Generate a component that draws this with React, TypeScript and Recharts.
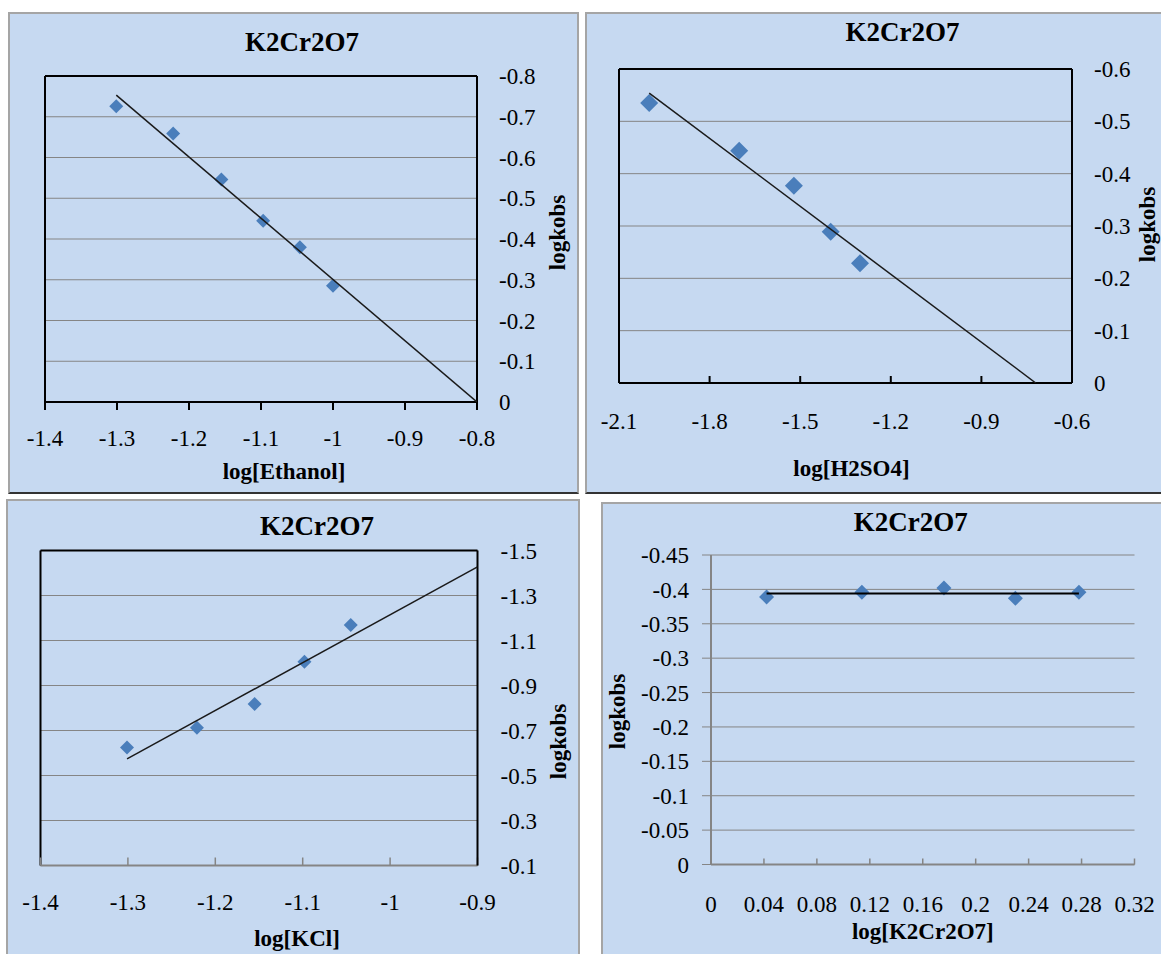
import React from 'react';
import { ScatterChart, Scatter, XAxis, YAxis, CartesianGrid, ReferenceLine } from 'recharts';

const FONT = '"Liberation Serif", "Times New Roman", serif';
const BG = '#c6d9f1';
const MARK = '#4a7ebb';
const GRID = '#858585';

// Panel 1: log[Ethanol]
const ethanolX = [-1.301, -1.222, -1.155, -1.097, -1.046, -1.0];
const ethanolY = [-0.726, -0.659, -0.546, -0.445, -0.38, -0.285];
const ethanolFitX = [-1.301, -0.8];
const ethanolFitY = [-0.753, 0];
const ethanolXTicks = [-1.4, -1.3, -1.2, -1.1, -1, -0.9, -0.8];
const ethanolYTicks = [-0.8, -0.7, -0.6, -0.5, -0.4, -0.3, -0.2, -0.1, 0];

// Panel 2: log[H2SO4]
const acidX = [-2.0, -1.702, -1.521, -1.399, -1.302];
const acidY = [-0.535, -0.444, -0.377, -0.289, -0.229];
const acidFitX = [-2.0, -0.72];
const acidFitY = [-0.554, 0];
const acidXTicks = [-2.1, -1.8, -1.5, -1.2, -0.9, -0.6];
const acidYTicks = [-0.6, -0.5, -0.4, -0.3, -0.2, -0.1, 0];

// Panel 3: log[KCl]
const kclX = [-1.301, -1.221, -1.155, -1.098, -1.045];
const kclY = [-0.625, -0.712, -0.818, -1.006, -1.169];
const kclFitX = [-1.301, -0.9];
const kclFitY = [-0.574, -1.427];
const kclXTicks = [-1.4, -1.3, -1.2, -1.1, -1, -0.9];
const kclYTicks = [-1.5, -1.3, -1.1, -0.9, -0.7, -0.5, -0.3, -0.1];

// Panel 4: log[K2Cr2O7]
const oxX = [0.042, 0.114, 0.176, 0.23, 0.278];
const oxY = [-0.389, -0.396, -0.402, -0.387, -0.396];
const oxFitX = [0.042, 0.278];
const oxFitY = [-0.394, -0.394];
const oxXTicks = [0, 0.04, 0.08, 0.12, 0.16, 0.2, 0.24, 0.28, 0.32];
const oxYTicks = [-0.45, -0.4, -0.35, -0.3, -0.25, -0.2, -0.15, -0.1, -0.05, 0];

const zip = (xs: number[], ys: number[]) => xs.map((x, i) => ({ x, y: ys[i] }));

const diamond = (r: number) => (props: any) => {
  const { cx, cy } = props;
  if (cx == null || cy == null) return null;
  return <path d={`M${cx},${cy - r}L${cx + r},${cy}L${cx},${cy + r}L${cx - r},${cy}Z`} fill={MARK} />;
};
const NoShape = () => null;

const tickStyle = { fontSize: 23, fill: '#000', fontFamily: 'Liberation Serif' };

const Title = ({ cx, top, text, size }: { cx: number; top: number; text: string; size: number }) => (
  <div
    style={{
      position: 'absolute',
      left: cx - 150,
      top,
      width: 300,
      textAlign: 'center',
      fontSize: size,
      lineHeight: `${size}px`,
      fontWeight: 'bold',
      fontFamily: FONT,
      whiteSpace: 'nowrap',
      color: '#000',
    }}
  >
    {text}
  </div>
);

const VTitle = ({ cx, cy, text }: { cx: number; cy: number; text: string }) => (
  <div
    style={{
      position: 'absolute',
      left: cx - 60,
      top: cy - 11.5,
      width: 120,
      height: 23,
      textAlign: 'center',
      fontSize: 23,
      lineHeight: '23px',
      fontWeight: 'bold',
      fontFamily: FONT,
      whiteSpace: 'nowrap',
      transform: 'rotate(-90deg)',
      color: '#000',
    }}
  >
    {text}
  </div>
);

const Frame = ({ left, top, width, height, darkBottom }: any) => (
  <div
    style={{
      position: 'absolute',
      left,
      top,
      width,
      height,
      boxSizing: 'border-box',
      background: BG,
      border: '2px solid #a5a5a5',
      borderBottom: darkBottom ? '2px solid #333' : '2px solid #a5a5a5',
    }}
  />
);

export default function App() {
  return (
    <div
      style={{
        position: 'absolute',
        left: 0,
        top: 0,
        width: 1161,
        height: 954,
        overflow: 'hidden',
        background: '#fff',
        fontFamily: FONT,
      }}
    >
      <style>{`.recharts-wrapper svg text, .recharts-text { font-family: "Liberation Serif", "Times New Roman", serif !important; }`}</style>
      <Frame left={8} top={12} width={571} height={482} darkBottom />
      <Frame left={585} top={12} width={600} height={482} darkBottom />
      <Frame left={6} top={499} width={574} height={500} />
      <Frame left={601} top={502} width={600} height={500} />

      {/* Panel 1 */}
      <div style={{ position: 'absolute', left: 8, top: 12 }}>
        <ScatterChart width={571} height={482} margin={{ top: 64, right: 0, bottom: 0, left: 37 }}>
          <CartesianGrid vertical={false} stroke={GRID} strokeWidth={1} />
          <XAxis type="number" dataKey="x" domain={[-1.4, -0.8]} ticks={ethanolXTicks} interval={0} height={92}
            axisLine={{ stroke: '#000', strokeWidth: 2 }} tickLine={{ stroke: '#000', strokeWidth: 2 }}
            tickSize={8} tickMargin={20} tick={tickStyle} allowDataOverflow />
          <YAxis type="number" dataKey="y" orientation="right" domain={[-0.8, 0]} reversed ticks={ethanolYTicks} interval={0}
            width={102} axisLine={{ stroke: '#000', strokeWidth: 2 }} tickLine={false} tickSize={0} tickMargin={22}
            tick={tickStyle} allowDataOverflow />
          <ReferenceLine y={-0.8} stroke="#000" strokeWidth={2} />
          <ReferenceLine x={-1.4} stroke="#000" strokeWidth={2} />
          <Scatter data={zip(ethanolX, ethanolY)} shape={diamond(7)} isAnimationActive={false} />
          <Scatter data={zip(ethanolFitX, ethanolFitY)} line={{ stroke: '#1a1a1a', strokeWidth: 1.5 }} shape={NoShape} isAnimationActive={false} />
        </ScatterChart>
      </div>

      {/* Panel 2 */}
      <div style={{ position: 'absolute', left: 585, top: 12 }}>
        <ScatterChart width={576} height={482} margin={{ top: 57, right: 0, bottom: 0, left: 34 }}>
          <CartesianGrid vertical={false} stroke={GRID} strokeWidth={1} />
          <XAxis type="number" dataKey="x" domain={[-2.1, -0.6]} ticks={acidXTicks} interval={0} height={111}
            axisLine={{ stroke: '#000', strokeWidth: 2 }} tickLine={{ stroke: '#000', strokeWidth: 2 }}
            tickSize={-7} tickMargin={37} tick={tickStyle} allowDataOverflow />
          <YAxis type="number" dataKey="y" orientation="right" domain={[-0.6, 0]} reversed ticks={acidYTicks} interval={0}
            width={89} axisLine={{ stroke: '#000', strokeWidth: 2 }} tickLine={false} tickSize={0} tickMargin={22}
            tick={tickStyle} allowDataOverflow />
          <ReferenceLine y={-0.6} stroke="#000" strokeWidth={2} />
          <ReferenceLine x={-2.1} stroke="#000" strokeWidth={2} />
          <Scatter data={zip(acidX, acidY)} shape={diamond(9)} isAnimationActive={false} />
          <Scatter data={zip(acidFitX, acidFitY)} line={{ stroke: '#1a1a1a', strokeWidth: 1.5 }} shape={NoShape} isAnimationActive={false} />
        </ScatterChart>
      </div>

      {/* Panel 3 */}
      <div style={{ position: 'absolute', left: 6, top: 499 }}>
        <ScatterChart width={574} height={455} margin={{ top: 51.5, right: 0, bottom: 0, left: 34.5 }}>
          <CartesianGrid vertical={false} stroke={GRID} strokeWidth={1} />
          <XAxis type="number" dataKey="x" domain={[-1.4, -0.9]} ticks={kclXTicks} interval={0} height={88.5}
            axisLine={{ stroke: GRID, strokeWidth: 2 }} tickLine={{ stroke: GRID, strokeWidth: 1.5 }}
            tickSize={-8} tickMargin={36} tick={tickStyle} allowDataOverflow />
          <YAxis type="number" dataKey="y" orientation="right" domain={[-1.5, -0.1]} reversed ticks={kclYTicks} interval={0}
            width={102.5} axisLine={{ stroke: '#000', strokeWidth: 2 }} tickLine={false} tickSize={0} tickMargin={23}
            tick={tickStyle} allowDataOverflow />
          <ReferenceLine y={-1.5} stroke="#000" strokeWidth={2} />
          <ReferenceLine x={-1.4} stroke="#000" strokeWidth={2} />
          <Scatter data={zip(kclX, kclY)} shape={diamond(7)} isAnimationActive={false} />
          <Scatter data={zip(kclFitX, kclFitY)} line={{ stroke: '#1a1a1a', strokeWidth: 1.5 }} shape={NoShape} isAnimationActive={false} />
        </ScatterChart>
      </div>

      {/* Panel 4 */}
      <div style={{ position: 'absolute', left: 601, top: 502 }}>
        <ScatterChart width={560} height={452} margin={{ top: 53, right: 26.5, bottom: 0, left: 0 }}>
          <CartesianGrid vertical={false} stroke={GRID} strokeWidth={1} />
          <XAxis type="number" dataKey="x" domain={[0, 0.32]} ticks={oxXTicks} interval={0} height={89.5}
            axisLine={{ stroke: GRID, strokeWidth: 2 }} tickLine={{ stroke: GRID, strokeWidth: 1.5 }}
            tickSize={-6} tickMargin={37} tick={tickStyle} allowDataOverflow />
          <YAxis type="number" dataKey="y" orientation="left" domain={[-0.45, 0]} reversed ticks={oxYTicks} interval={0}
            width={110} axisLine={{ stroke: GRID, strokeWidth: 2 }} tickLine={{ stroke: GRID, strokeWidth: 1 }} tickSize={9} tickMargin={13}
            tick={tickStyle} allowDataOverflow />
          <Scatter data={zip(oxX, oxY)} shape={diamond(7.5)} isAnimationActive={false} />
          <Scatter data={zip(oxFitX, oxFitY)} line={{ stroke: '#000', strokeWidth: 2 }} shape={NoShape} isAnimationActive={false} />
        </ScatterChart>
      </div>

      <Title cx={302} top={28.8} text="K2Cr2O7" size={27} />
      <Title cx={902.5} top={18.8} text="K2Cr2O7" size={27} />
      <Title cx={317} top={513} text="K2Cr2O7" size={27} />
      <Title cx={910.7} top={509.3} text="K2Cr2O7" size={27} />

      <Title cx={284} top={459.5} text="log[Ethanol]" size={23} />
      <Title cx={851.5} top={457} text="log[H2SO4]" size={23} />
      <Title cx={297} top={927} text="log[KCl]" size={23} />
      <Title cx={922.8} top={920.3} text="log[K2Cr2O7]" size={23} />

      <VTitle cx={557.2} cy={232.5} text="logkobs" />
      <VTitle cx={1147.3} cy={224} text="logkobs" />
      <VTitle cx={557.6} cy={741} text="logkobs" />
      <VTitle cx={616.6} cy={711} text="logkobs" />
    </div>
  );
}
